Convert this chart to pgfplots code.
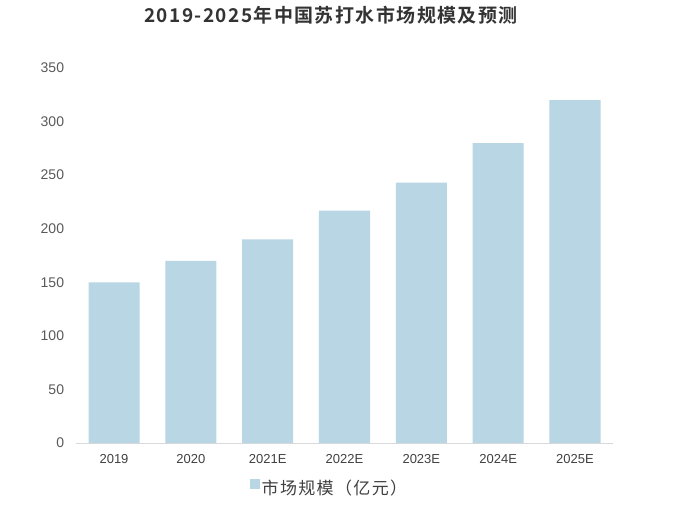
\documentclass[border=0pt]{standalone}
\usepackage{fontspec}
\setmainfont{Liberation Sans}
\newfontfamily\cjk[LetterSpace=8]{Noto Sans CJK SC}
\newfontfamily\cjkb[LetterSpace=7.5]{Noto Sans CJK SC Bold}
\usepackage{pgfplots}
\pgfplotsset{compat=1.18}
\definecolor{barblue}{RGB}{185,214,228}
\definecolor{ticklab}{RGB}{89,89,89}
\definecolor{axgray}{RGB}{217,217,217}

\begin{document}
\begin{tikzpicture}[x=1pt,y=1pt]
\path[use as bounding box] (0,0) rectangle (684,504);
\node[font=\cjkb\fontsize{19}{22}\selectfont, text=black!80] at (331,489) {2019-2025年中国苏打水市场规模及预测};
\begin{axis}[
    at={(75.6pt,61pt)}, anchor=south west,
    scale only axis,
    width=537.8pt, height=375pt,
    xmin=-0.5, xmax=6.5,
    ymin=0, ymax=350,
    xtick=data,
    xticklabels={2019,2020,2021E,2022E,2023E,2024E,2025E},
    ytick={0,50,...,350},
    major tick length=0pt,
    axis x line*=bottom,
    axis y line*=left,
    x axis line style={draw=axgray, line width=1pt, -},
    y axis line style={draw=none},
    /pgf/number format/assume math mode=true,
    yticklabel style={font=\fontsize{14}{16}\selectfont, text=ticklab, xshift=-8pt},
    xticklabel style={font=\fontsize{13}{15}\selectfont, text=black!75, yshift=-8pt},
    legend style={at={(0.472,-0.12)}, anchor=center, draw=none, fill=none,
        font=\cjk\fontsize{17}{19}\selectfont, text=black!75},
    legend image code/.code={\fill[barblue] (0pt,-1pt) rectangle (10pt,9pt);},
]
\addplot[ybar, bar width=0.664, fill=barblue, draw=none] coordinates {
    (0,150) (1,170) (2,190) (3,217) (4,243) (5,280) (6,320)
};
\addlegendentry{市场规模（亿元）}
\end{axis}
\end{tikzpicture}
\end{document}
